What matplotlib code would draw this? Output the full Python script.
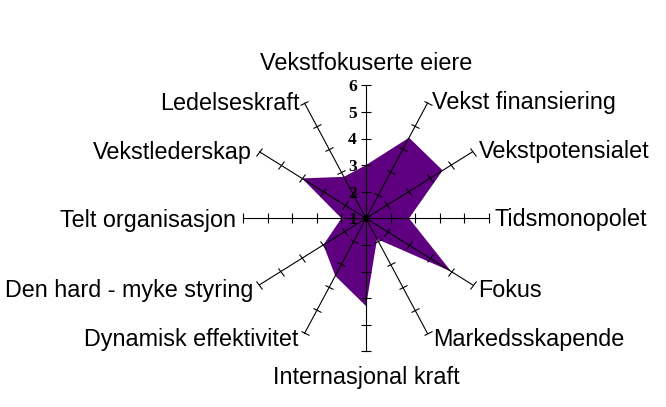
import numpy as np
import matplotlib
matplotlib.use('Agg')
from matplotlib import pyplot as plt
from matplotlib.markers import MarkerStyle
from matplotlib.transforms import Affine2D

# Kategorier (med klokka fra toppen) og verdier
kategorier = ['Vekstfokuserte eiere', 'Vekst finansiering', 'Vekstpotensialet',
              'Tidsmonopolet', 'Fokus', 'Markedsskapende', 'Internasjonal kraft',
              'Dynamisk effektivitet', 'Den hard - myke styring', 'Telt organisasjon',
              'Vekstlederskap', 'Ledelseskraft']
verdier = [3.0, 4.5, 4.6, 2.75, 5.0, 1.9, 4.3, 3.5, 3.0, 2.0, 4.0, 2.8]
skala = [1, 2, 3, 4, 5, 6]

# label offsets (points) and alignment
etikett_pos = [
    (0, 11, 'center', 'baseline'),
    (3.2, 2.2, 'left', 'center_baseline'),
    (4.7, 2, 'left', 'center_baseline'),
    (4.3, 1, 'left', 'center_baseline'),
    (4, -2, 'left', 'center_baseline'),
    (4, -2.5, 'left', 'center_baseline'),
    (0, -10.6, 'center', 'top'),
    (-4.7, -2.5, 'right', 'center_baseline'),
    (-4.3, -2, 'right', 'center_baseline'),
    (-5, 0, 'right', 'center_baseline'),
    (-5.8, 1.3, 'right', 'center_baseline'),
    (-3.6, 1.4, 'right', 'center_baseline'),
]

W, H = 666, 407
fig = plt.figure(figsize=(W / 100, H / 100), dpi=100)
rx, ry = 123, 133
cx, cy = 366, 218.3
ax = fig.add_axes([(cx - rx) / W, (H - cy - ry) / H, 2 * rx / W, 2 * ry / H], projection='polar')
ax.set_aspect('auto')
ax.set_theta_zero_location('N')
ax.set_theta_direction(-1)
ax.set_ylim(skala[0], skala[-1])
ax.grid(False)
ax.set_xticks([])
ax.set_yticks([])
ax.spines['polar'].set_visible(False)
ax.patch.set_visible(False)

n = len(kategorier)
vinkler = np.arange(n) * 2 * np.pi / n

# polygon
ax.fill(np.append(vinkler, vinkler[0]), verdier + verdier[:1], color='#5F0080', lw=0, zorder=1)

# akser med tikker
for i, th in enumerate(vinkler):
    ax.plot([th, th], [skala[0], skala[-1]], color='black', lw=0.8, zorder=2, clip_on=False)
    a = np.pi / 2 - th
    beta = np.degrees(np.arctan2(ry * np.sin(a), rx * np.cos(a)))
    m = MarkerStyle('|', transform=Affine2D().rotate_deg(beta))
    ax.plot([th] * (len(skala) - 1), skala[1:], ls='none', marker=m, ms=7, mew=0.8,
            color='black', zorder=2, clip_on=False)
    dx, dy, ha, va = etikett_pos[i]
    ax.annotate(kategorier[i], xy=(th, skala[-1]), xytext=(dx, dy), textcoords='offset points',
                ha=ha, va=va, fontsize=16.8, family='Liberation Sans', annotation_clip=False)

ax.plot([0], [skala[0]], 'o', color='black', ms=4, zorder=3, clip_on=False)

# skalatall på toppaksen
for v in skala:
    ax.annotate(str(v), xy=(0, v), xytext=(-6.5, 0), textcoords='offset points',
                ha='right', va='center_baseline', fontsize=12.5, fontweight='bold',
                family='Liberation Serif', zorder=4, annotation_clip=False)

fig.savefig('out.png', dpi=100)
